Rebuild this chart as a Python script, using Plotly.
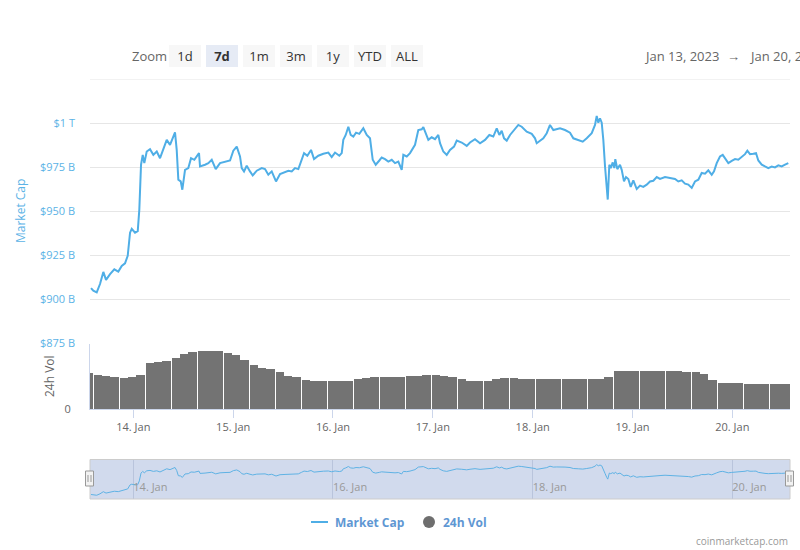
import pandas as pd
import plotly.graph_objects as go

# ---------------- data ----------------
# Market cap line: hours since 2023-01-13 00:00 and value in billions of USD
mcap_hours = [13.83, 14.38, 15.20, 15.99, 16.79, 17.44, 18.40, 19.43, 20.39, 21.21,
              22.00, 22.65, 23.21, 23.62, 24.41, 25.06, 25.44, 25.85, 26.26, 26.64,
              27.22, 28.01, 28.81, 29.63, 30.42, 31.21, 32.03, 32.82, 33.38, 34.02,
              34.43, 34.82, 35.39, 35.78, 36.43, 37.22, 37.87, 38.66, 39.79, 40.03,
              41.24, 42.03, 42.85, 43.81, 44.84, 46.04, 47.25,
              48.04, 48.86, 49.65, 50.06, 50.61, 51.26, 52.05, 52.70, 53.67, 54.87,
              55.66, 56.45, 57.27, 58.30, 59.27, 60.47, 61.26, 62.08, 62.87, 63.67,
              64.48, 65.04, 65.83, 66.72, 67.44, 68.47, 69.68, 70.88, 71.69, 72.49,
              73.52, 74.10, 74.48, 75.06, 75.69, 76.26, 76.89, 77.54, 78.33, 79.29,
              80.11, 80.90, 81.55, 82.27, 83.14, 83.71,
              84.51, 85.30, 86.12, 86.91, 87.71, 88.52, 88.91, 89.73, 90.52, 91.17,
              91.72, 92.51, 93.33, 93.72, 94.92, 95.73, 96.53, 97.32, 97.73, 98.52,
              99.34, 100.13, 101.10, 101.75, 102.95, 104.15, 104.94, 106.14, 107.35, 108.55,
              109.58, 110.54, 111.36, 111.99, 112.56, 113.12, 113.77, 114.56, 115.52, 116.55,
              117.37, 118.57, 119.78, 120.57, 120.98, 121.77, 122.56, 123.38, 124.17, 124.97,
              125.79,
              126.58, 127.78, 128.98, 129.78, 130.98, 132.04, 133.00, 134.20, 134.99, 135.40,
              135.79, 136.19, 136.60, 136.99, 137.40, 137.81, 138.05, 138.43, 138.77, 139.25,
              139.63, 139.87, 140.35, 141.00, 141.41, 141.96, 142.44, 143.00, 143.57, 144.20,
              145.02, 145.81, 146.60, 147.42, 148.21, 149.01, 149.83, 150.62, 151.82, 153.02,
              154.22, 155.02, 155.83, 156.63, 157.42, 158.24, 159.03, 159.83, 160.64, 161.44,
              162.23, 163.05, 163.60, 164.25, 165.04, 165.69, 166.24, 167.04, 167.86, 168.65,
              169.44, 170.26, 171.05, 171.61, 172.25, 173.05, 173.70, 174.25, 175.07, 175.86,
              176.65, 177.47, 178.26, 179.06, 179.87, 180.67, 181.46]

mcap_bn = [906.2, 904.7, 903.8, 908.5, 915.4, 910.9, 914.1, 916.9, 915.6, 918.8,
           920.3, 924.5, 937.7, 939.9, 937.7, 938.6, 950.8, 976.3, 981.9, 977.2,
           983.8, 985.1, 981.9, 983.8, 980.0, 984.7, 990.4, 987.6, 991.3, 994.7,
           984.7, 967.8, 966.8, 962.1, 973.4, 974.4, 980.0, 979.1, 982.9, 975.3,
           976.3, 977.2, 979.1, 973.8, 977.2, 978.1, 978.7,
           984.3, 986.6, 981.0, 974.4, 972.5, 975.7, 972.5, 970.2, 972.9, 974.4,
           973.8, 970.6, 972.5, 966.8, 971.0, 971.9, 972.9, 972.5, 974.4, 973.8,
           979.1, 982.9, 981.4, 984.7, 979.5, 981.4, 982.5, 983.2, 980.6, 983.2,
           981.4, 982.9, 990.4, 993.2, 997.9, 993.2, 992.3, 994.5, 993.8, 997.0,
           993.2, 991.3, 979.1, 976.3, 978.7, 980.4,
           979.5, 978.1, 979.1, 977.2, 978.1, 973.4, 981.9, 981.0, 982.9, 985.1,
           987.6, 996.0, 996.4, 997.6, 990.4, 991.9, 990.8, 993.2, 988.5, 983.8,
           981.9, 984.7, 986.6, 990.0, 988.9, 987.0, 988.9, 990.8, 988.5, 990.4,
           993.2, 992.3, 997.0, 993.2, 995.6, 991.3, 990.0, 993.2, 996.0, 998.9,
           997.9, 995.1, 993.8, 991.3, 988.5, 990.0, 991.3, 994.2, 998.9, 996.0,
           996.4,
           997.0, 996.0, 994.5, 991.3, 990.4, 989.4, 991.3, 994.2, 998.9, 1004.0,
           1000.2, 1002.7, 1000.2, 990.4, 975.3, 962.1, 956.5, 976.3, 974.4, 977.6,
           974.4, 979.5, 973.8, 976.3, 973.4, 966.8, 969.3, 968.2, 963.7, 967.4,
           962.5, 964.4, 963.7, 965.0, 966.8, 967.2, 969.3, 968.2, 969.3, 968.8,
           968.2, 966.8, 967.4, 965.5, 965.0, 963.1, 966.8, 967.8, 971.6, 971.2,
           973.1, 970.6, 972.5, 977.2, 981.0, 981.9, 980.0, 977.2, 978.5, 979.5,
           979.1, 981.0, 982.3, 984.3, 982.3, 982.5, 982.9, 978.7, 976.3, 975.3,
           974.4, 975.3, 974.8, 975.9, 975.3, 976.3, 977.2]

# 24h volume (relative units, axis 0..100), one value per 125-minute bar
vol_start = "2023-01-13 12:15"
vol_step_minutes = 125
vol_group_size = 3
vol_units = [56,
             52, 51, 48.5, 47, 49, 52, 71.5, 73, 74.5, 78,
             85, 87.7, 89.7, 89, 88.5, 86, 83, 75, 67.5, 63,
             60.8, 57, 51, 48.5, 44.6, 43.5, 43.5, 43.5, 43, 43,
             45.5, 47, 48.5, 49.2, 49.2, 50, 50.8, 51.5, 52.3, 52.3,
             51.5, 49.2, 46.2, 43, 43, 43.8, 46.2, 47.7, 47.2, 46.2,
             45.7, 45.4, 45.4, 46.2, 46.2, 46.2, 46.2, 45.4, 46.2, 49.2,
             58.5, 59, 59, 59.2, 59, 58.5, 58.5, 58.2, 57.7, 57,
             53.8, 44.6, 40, 40, 39.5, 39, 39, 39, 39, 39, 39]

x_range = ["2023-01-13 13:35", "2023-01-20 13:52"]
first_day_tick = "2023-01-14"
mcap_range = [875, 1025]
mcap_tickvals = [875, 900, 925, 950, 975, 1000, 1025]
mcap_ticktext = ["$875 B", "$900 B", "$925 B", "$950 B", "$975 B", "$1 T", ""]
vol_range = [0, 100]
nav_range = [891.5, 1020.8]
zoom_buttons = ["1d", "7d", "1m", "3m", "1y", "YTD", "ALL"]
active_button = "7d"
date_from = "Jan 13, 2023"
date_to = "Jan 20, 2023"
series_names = ["Market Cap", "24h Vol"]

# ---------------- derived ----------------
base = pd.Timestamp("2023-01-13")
mcap_times = base + pd.to_timedelta(mcap_hours, unit="h")
vol_times = pd.date_range(vol_start, periods=len(vol_units), freq=f"{vol_step_minutes}min")
step_ms = vol_step_minutes * 60_000
gap_ms = 864_000  # thin white separator between bar groups
vol_offset = [gap_ms if i % vol_group_size == 1 else 0 for i in range(len(vol_units))]
vol_width = [step_ms - o for o in vol_offset]

# ---------------- styling ----------------
FONT = "Open Sans, Arial, sans-serif"
LINE_BLUE = "#4faee6"
LABEL_BLUE = "#5cb3e6"
LEGEND_BLUE = "#5f97d3"
BAR_GRAY = "#737373"
AXIS_LINE = "#ccd6eb"
GRID = "#e6e6e6"

W, H = 800, 550
L, R, T, B = 90, 10, 79, 51
PW, PH = W - L - R, H - T - B


def fx(px):
    return (px - L) / PW


def fy(py):
    return (H - B - py) / PH


main_dom = [fy(343), 1.0]
vol_dom = [fy(409), fy(344)]
nav_dom = [0.0, fy(459.5)]

fig = go.Figure()

fig.add_trace(go.Scatter(
    x=mcap_times, y=mcap_bn, mode="lines", name=series_names[0],
    line=dict(color=LINE_BLUE, width=2), xaxis="x", yaxis="y",
    showlegend=False, hoverinfo="skip"))

fig.add_trace(go.Bar(
    x=vol_times, y=vol_units, name=series_names[1],
    width=vol_width, offset=vol_offset,
    marker=dict(color=BAR_GRAY, line=dict(width=0)),
    xaxis="x", yaxis="y2", showlegend=False, hoverinfo="skip"))

fig.add_trace(go.Scatter(
    x=mcap_times, y=mcap_bn, mode="lines",
    line=dict(color="#5fb2e4", width=1), xaxis="x3", yaxis="y3",
    showlegend=False, hoverinfo="skip"))

tickfont_gray = dict(family=FONT, size=11, color="#666666")

fig.update_layout(
    width=W, height=H,
    margin=dict(l=L, r=R, t=T, b=B),
    paper_bgcolor="white", plot_bgcolor="white",
    font=dict(family=FONT),
    showlegend=False,
    hovermode=False,
    bargap=0,
    xaxis=dict(
        type="date", range=x_range, domain=[0, 1], anchor="y2",
        tick0=first_day_tick, dtick=86_400_000, tickformat="%d. %b",
        ticks="outside", ticklen=8, tickcolor=AXIS_LINE, tickwidth=1,
        showline=True, linecolor=AXIS_LINE, linewidth=1,
        showgrid=False, zeroline=False, tickfont=tickfont_gray,
        fixedrange=True),
    yaxis=dict(
        domain=main_dom, anchor="x", range=mcap_range,
        tickvals=mcap_tickvals, ticktext=mcap_ticktext,
        showgrid=True, gridcolor=GRID, gridwidth=1,
        showline=False, zeroline=False, ticks="",
        ticklabelstandoff=14,
        tickfont=dict(family=FONT, size=11, color=LABEL_BLUE),
        fixedrange=True),
    yaxis2=dict(
        domain=vol_dom, anchor="x", range=vol_range,
        tickvals=[0], ticktext=["0"], showgrid=False, zeroline=False,
        showline=True, linecolor=AXIS_LINE, linewidth=1, ticks="",
        ticklabelstandoff=16, tickfont=tickfont_gray, fixedrange=True),
    xaxis3=dict(
        type="date", range=x_range, domain=[0, 1], anchor="y3",
        tick0=first_day_tick, dtick=2 * 86_400_000, tickformat="%d. %b",
        ticklabelposition="inside right", ticks="",
        showgrid=True, gridcolor="#b9c4dc", gridwidth=1,
        showline=False, zeroline=False,
        tickfont=dict(family=FONT, size=11, color="#999999"),
        fixedrange=True),
    yaxis3=dict(domain=nav_dom, anchor="x3", range=nav_range, visible=False,
                fixedrange=True),
)

shapes = []
# top grid line of the market-cap axis (plotly drops the one at the range edge)
shapes.append(dict(type="line", xref="x domain", yref="y",
                   x0=0, x1=1, y0=mcap_tickvals[-1], y1=mcap_tickvals[-1],
                   line=dict(color=GRID, width=1), layer="below"))
# navigator mask & outline
shapes.append(dict(type="rect", xref="x3 domain", yref="y3 domain",
                   x0=0, x1=1, y0=0, y1=1, layer="below",
                   fillcolor="rgba(102,133,194,0.3)", line=dict(width=0)))
shapes.append(dict(type="rect", xref="x3 domain", yref="y3 domain",
                   x0=0, x1=1, y0=0, y1=1, layer="above",
                   fillcolor="rgba(0,0,0,0)", line=dict(color="#cccccc", width=1)))
# navigator handles
for hx in (89.5, 789.5):
    shapes.append(dict(type="rect", xref="paper", yref="paper",
                       x0=fx(hx - 4), x1=fx(hx + 4), y0=fy(486), y1=fy(471),
                       fillcolor="#f2f2f2", line=dict(color="#999999", width=1),
                       layer="above"))
    for dx in (-1.5, 1.5):
        shapes.append(dict(type="line", xref="paper", yref="paper",
                           x0=fx(hx + dx), x1=fx(hx + dx), y0=fy(482), y1=fy(475),
                           line=dict(color="#999999", width=1), layer="above"))
# legend symbols
shapes.append(dict(type="line", xref="paper", yref="paper",
                   x0=fx(311), x1=fx(328), y0=fy(522), y1=fy(522),
                   line=dict(color=LINE_BLUE, width=2)))
shapes.append(dict(type="circle", xref="paper", yref="paper",
                   x0=fx(423), x1=fx(435), y0=fy(528), y1=fy(516),
                   fillcolor="#6e6e6e", line=dict(width=0)))
fig.update_layout(shapes=shapes)

ann = []
# axis titles
ann.append(dict(text=series_names[0], xref="paper", yref="paper",
                x=fx(20), y=fy(211), textangle=-90, showarrow=False,
                font=dict(family=FONT, size=12, color=LABEL_BLUE),
                xanchor="center", yanchor="middle"))
ann.append(dict(text=series_names[1], xref="paper", yref="paper",
                x=fx(50), y=fy(376), textangle=-90, showarrow=False,
                font=dict(family=FONT, size=12, color="#666666"),
                xanchor="center", yanchor="middle"))
# range selector
ann.append(dict(text="Zoom", xref="paper", yref="paper", x=fx(130), y=fy(56),
                xanchor="left", yanchor="middle", showarrow=False,
                font=dict(family=FONT, size=13, color="#666666")))
for i, lab in enumerate(zoom_buttons):
    left = 169 + 37 * i
    active = lab == active_button
    ann.append(dict(text=f"<b>{lab}</b>" if active else lab,
                    xref="paper", yref="paper", x=fx(left), y=fy(45),
                    xanchor="left", yanchor="top", showarrow=False,
                    width=32, height=22, borderpad=0, borderwidth=0,
                    bgcolor="#e6ebf5" if active else "#f7f7f7",
                    font=dict(family=FONT, size=13, color="#333333")))
# date range (the reference cuts the end date off at the right edge)
ann.append(dict(text=date_from, xref="paper", yref="paper", x=fx(642), y=fy(56),
                xanchor="left", yanchor="middle", showarrow=False,
                font=dict(family=FONT, size=13, color="#666666")))
ann.append(dict(text="→", xref="paper", yref="paper", x=fx(733), y=fy(56),
                xanchor="center", yanchor="middle", showarrow=False,
                font=dict(family=FONT, size=13, color="#666666")))
ann.append(dict(text=date_to, xref="paper", yref="paper", x=fx(747), y=fy(56),
                xanchor="left", yanchor="middle", showarrow=False,
                font=dict(family=FONT, size=13, color="#666666")))
# legend texts
ann.append(dict(text=f"<b>{series_names[0]}</b>", xref="paper", yref="paper",
                x=fx(333), y=fy(522), xanchor="left", yanchor="middle",
                showarrow=False, font=dict(family=FONT, size=12, color=LEGEND_BLUE)))
ann.append(dict(text=f"<b>{series_names[1]}</b>", xref="paper", yref="paper",
                x=fx(441), y=fy(522), xanchor="left", yanchor="middle",
                showarrow=False, font=dict(family=FONT, size=12, color=LEGEND_BLUE)))
# credits
ann.append(dict(text="coinmarketcap.com", xref="paper", yref="paper",
                x=fx(790), y=fy(541), xanchor="right", yanchor="middle",
                showarrow=False, font=dict(family=FONT, size=10, color="#999999")))
fig.update_layout(annotations=ann)

fig.write_html("out.html", config={"displayModeBar": False})
